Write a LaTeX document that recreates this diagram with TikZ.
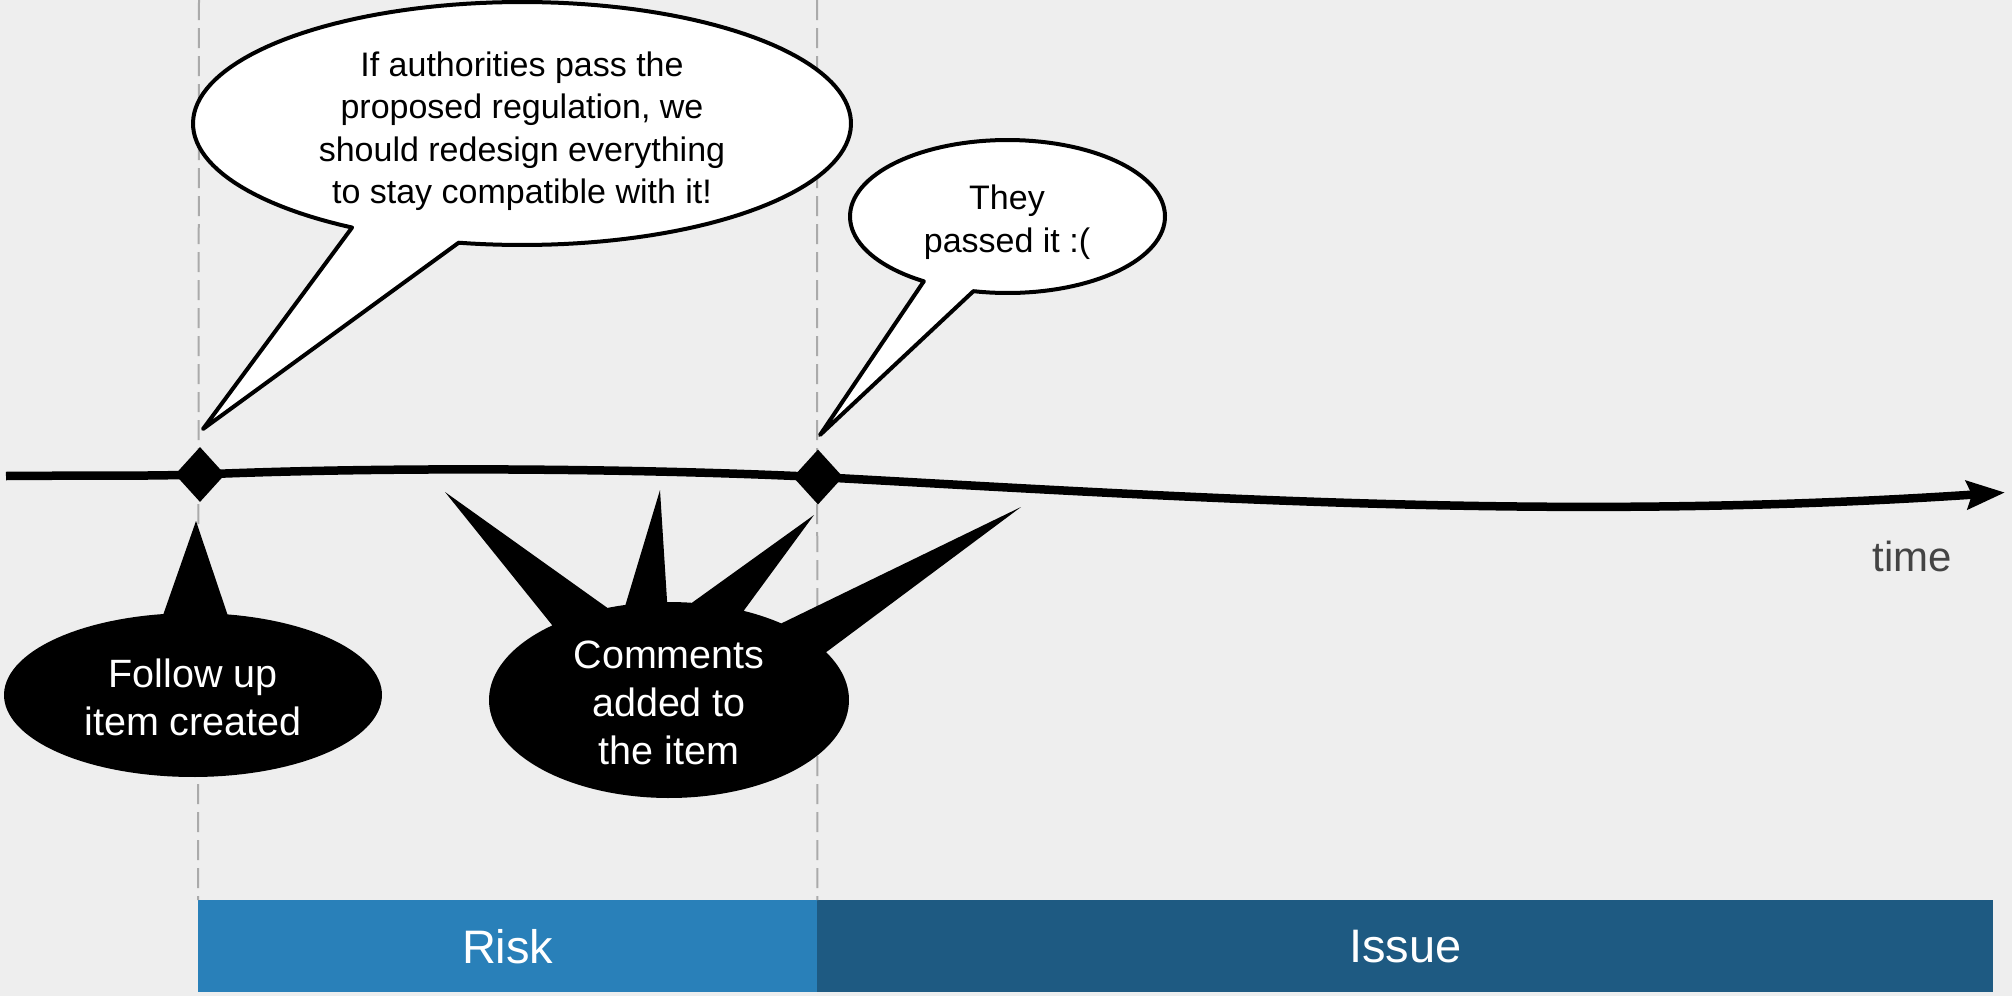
\documentclass[tikz,border=0pt]{standalone}
\usepackage{fontspec}
\setmainfont{Liberation Sans}
\usetikzlibrary{arrows.meta,shapes.geometric}
\definecolor{bgc}{HTML}{EEEEEE}
\definecolor{riskc}{HTML}{2980B9}
\definecolor{issuec}{HTML}{1E5A82}
\definecolor{dashc}{HTML}{AAAAAA}
\definecolor{timec}{HTML}{444444}
\begin{document}
\begin{tikzpicture}[x=1pt,y=-1pt,
  wbubble/.style={fill=white,draw=black,line width=4pt,line join=round},
  bbubble/.style={fill=black},
  wtext/.style={align=center,font=\fontsize{34}{42.5}\selectfont,inner sep=0pt},
  btext/.style={align=center,text=white,font=\fontsize{39.5}{48}\selectfont,inner sep=0pt},
  guide/.style={draw=dashc,line width=2pt,dash pattern=on 20pt off 8pt},
  milestone/.style={diamond,fill=black,minimum width=50pt,minimum height=55pt,inner sep=0pt},
  phase/.style={anchor=north west,inner sep=0pt,minimum height=92pt,text=white,font=\fontsize{47}{56}\selectfont},
  timeline/.style={line width=8.5pt,-{Stealth[length=38pt,width=28pt,inset=5pt]}}
]
\fill[bgc] (0,0) rectangle (2012,996);
\useasboundingbox (0,0) rectangle (2012,996);

% phase bars
\node[phase,fill=riskc,minimum width=619pt] (risk) at (198,900) {Risk};
\node[phase,fill=issuec,minimum width=1176pt] (issue) at (817,900) {Issue};

% guides
\coordinate (g1) at (199,0);
\coordinate (g2) at (817,0);
\draw[guide] (g1) -- (risk.north west);
\draw[guide] (g2) -- (risk.north east);

% white bubble 1
\draw[wbubble] plot[domain=121.1:461.1,samples=150] ({522+329*cos(\x)},{123.5+121.5*sin(\x)}) -- (203,429) -- cycle;
\node[wtext] (q1) at (522,131) {If authorities pass the\\proposed regulation, we\\should redesign everything\\to stay compatible with it!};

% white bubble 2
\draw[wbubble] plot[domain=122.1:462.5,samples=120] ({1007.5+157.5*cos(\x)},{216.5+76.5*sin(\x)}) -- (820,435) -- cycle;
\node[wtext] (q2) at (1007,222) {They\\passed it :(};

% black bubble 1
\fill[bbubble] plot[domain=280.5:621,samples=120] ({193+189*cos(\x)},{695+82*sin(\x)}) -- (196,521) -- cycle;
\node[btext] (e1) at (193,697.5) {Follow up\\item created};

% black bubble 2
\fill[bbubble] plot[domain=330.8:589.6,samples=120] ({669+180*cos(\x)},{700+98*sin(\x)})
  -- (445,492)
  -- plot[domain=250:256,samples=5] ({669+180*cos(\x)},{700+98*sin(\x)})
  -- (660,490)
  -- plot[domain=269.4:277.3,samples=5] ({669+180*cos(\x)},{700+98*sin(\x)})
  -- (814,515)
  -- plot[domain=294.5:308.6,samples=8] ({669+180*cos(\x)},{700+98*sin(\x)})
  -- (1021,507) -- cycle;
\node[btext] (e2) at (669,702.5) {Comments\\added to\\the item};

% timeline
\node[milestone] (d1) at (200,474.5) {};
\node[milestone] (d2) at (818,477) {};
\coordinate (t0) at (6,476);
\coordinate (tend) at (2005,492.5);
\draw[timeline] (t0) .. controls (70,475.3) and (140,476.4) .. (d1.center)
  .. controls (400,466) and (650,469) .. (d2.center)
  .. controls (1200,498) and (1560,522) .. (tend);
\node[text=timec,font=\fontsize{42}{50}\selectfont,inner sep=0pt] (time) at (1912,556) {time};
\end{tikzpicture}
\end{document}
